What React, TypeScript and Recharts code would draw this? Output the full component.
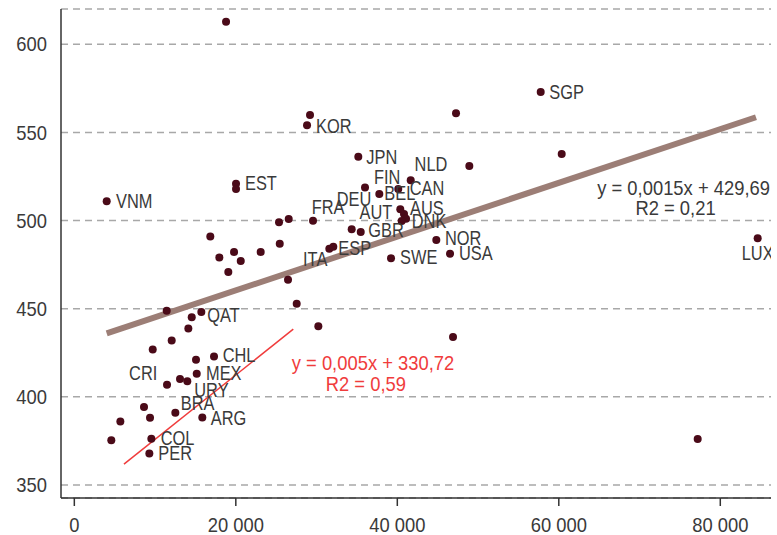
import { ScatterChart, Scatter, XAxis, YAxis, CartesianGrid, ReferenceDot } from "recharts";

// GDP per capita (x) vs score (y)
const gdp = [
  18790, 57760, 29190, 28820, 47270, 35170, 48920, 60360, 36000, 41660,
  40120, 37770, 40370, 40830, 41080, 40545, 29560, 25350, 26550, 4010,
  20025, 20025, 16840, 19780, 17960, 20610, 19070, 23080, 25440, 26465,
  34350, 35470, 31580, 32075, 39220, 44830, 46530, 84630, 27540, 30220,
  46900, 77200, 11440, 15730, 14540, 14120, 12060, 9710, 15070, 17300,
  15160, 13090, 13990, 11480, 8630, 5700, 9375, 12510, 15850, 4580,
  9540, 9290,
];
const score = [
  612.7, 572.9, 559.9, 554.0, 560.8, 536.2, 530.9, 537.7, 518.8, 522.8,
  517.9, 515.0, 506.4, 503.7, 501.0, 499.7, 499.9, 499.0, 500.9, 510.9,
  520.9, 517.9, 491.0, 482.1, 479.1, 477.0, 470.8, 482.1, 486.8, 466.4,
  495.0, 493.5, 484.0, 485.1, 478.6, 488.9, 481.2, 489.9, 452.8, 440.1,
  433.9, 376.0, 448.8, 448.1, 445.1, 438.8, 432.0, 426.9, 421.0, 422.9,
  413.1, 410.1, 408.9, 406.8, 394.2, 386.0, 388.1, 390.9, 388.3, 375.3,
  376.2, 367.9,
];
const codes = [
  "", "SGP", "", "KOR", "", "JPN", "NLD", "", "FIN", "CAN",
  "BEL", "DEU", "AUT", "AUS", "DNK", "", "FRA", "", "", "VNM",
  "EST", "", "", "", "", "", "", "", "", "",
  "", "GBR", "ITA", "ESP", "SWE", "NOR", "USA", "LUX", "", "",
  "", "", "", "QAT", "", "", "", "", "", "CHL",
  "MEX", "", "URY", "CRI", "", "", "", "BRA", "ARG", "",
  "COL", "PER",
];

// trend lines, end points
const allTrendX = [4010, 84420];
const allTrendY = [436.0, 558.6];
const lowTrendX = [6150, 27120];
const lowTrendY = [361.8, 438.4];

const xTicks = [0, 20000, 40000, 60000, 80000];
const yTicks = [350, 400, 450, 500, 550, 600];

const points = gdp.map((x, i) => ({ x, y: score[i], code: codes[i] }));
const allTrend = allTrendX.map((x, i) => ({ x, y: allTrendY[i] }));
const lowTrend = lowTrendX.map((x, i) => ({ x, y: lowTrendY[i] }));

const FONT = "'Liberation Sans', Arial, sans-serif";
const TEXT = "#3a3a3a";
const DOT = "#4a0a18";
const RED = "#f03c3c";

// condensed look: squeeze the text horizontally around its anchor
const NText = ({ x, y, anchor, sx, dy, fill, children }: any) => (
  <text
    transform={`translate(${x},${y}) scale(${sx},1)`}
    x={0}
    y={0}
    dy={dy}
    textAnchor={anchor}
    fill={fill}
    fontSize={20}
    fontFamily={FONT}
  >
    {children}
  </text>
);

// label placement: dx, dy (to text centre line), anchor
const labelPos: Record<string, [number, number, string]> = {
  KOR: [9, 0, "start"],
  JPN: [8, 0, "start"],
  NLD: [-22, -2, "end"],
  CAN: [-1, 7, "start"],
  BEL: [-14, 3.5, "start"],
  DEU: [-8, 5, "end"],
  FIN: [9, -11, "start"],
  AUT: [-8, 3, "end"],
  AUS: [6, -6.5, "start"],
  DNK: [5.7, 2.3, "start"],
  FRA: [-1.3, -14, "start"],
  GBR: [7.6, -2.5, "start"],
  ESP: [5, 1, "start"],
  ITA: [-2, 10, "end"],
  SWE: [9, -1, "start"],
  NOR: [8.7, -2.5, "start"],
  USA: [9, -1, "start"],
  LUX: [0, 14, "middle"],
  SGP: [8.6, 0, "start"],
  VNM: [9.3, -1, "start"],
  EST: [9, -1, "start"],
  QAT: [6, 3, "start"],
  CHL: [8.7, -2, "start"],
  CRI: [-9.7, -12, "end"],
  MEX: [9.3, -1, "start"],
  URY: [7, 9, "start"],
  BRA: [5.4, -9.7, "start"],
  ARG: [8.4, 0, "start"],
  COL: [9.4, -1, "start"],
  PER: [9, -1, "start"],
};

const CountryDot = (props: any) => {
  const { cx, cy, payload } = props;
  const pos = labelPos[payload.code];
  return (
    <g>
      <circle cx={cx} cy={cy} r={4} fill={DOT} />
      {pos && (
        <NText x={cx + pos[0]} y={cy + pos[1]} dy="0.36em" anchor={pos[2]} sx={0.82} fill={TEXT}>
          {payload.code}
        </NText>
      )}
    </g>
  );
};

const noShape = () => <g />;

const note = (value: string, color: string) => (props: any) => {
  const { viewBox } = props;
  const cx = viewBox.x + viewBox.width / 2;
  const cy = viewBox.y + viewBox.height / 2;
  return (
    <NText x={cx} y={cy} dy="0.36em" anchor="middle" sx={0.92} fill={color}>
      {value}
    </NText>
  );
};

const fmt = (v: number) => (v === 0 ? "0" : `${Math.floor(v / 1000)} ${String(v % 1000).padStart(3, "0")}`);

const XTick = (props: any) => (
  <NText x={props.x} y={props.y} dy="0.71em" anchor="middle" sx={0.92} fill={TEXT}>
    {fmt(props.payload.value)}
  </NText>
);

const YTick = (props: any) => (
  <NText x={props.x} y={props.y} dy="0.36em" anchor="end" sx={0.92} fill={TEXT}>
    {props.payload.value}
  </NText>
);

export default function App() {
  return (
    <div style={{ position: "absolute", left: 0, top: 0, width: 777, height: 535, background: "#fff" }}>
      <ScatterChart width={777} height={535} margin={{ top: 9, right: 6, bottom: 0, left: 0 }}>
        <CartesianGrid vertical={false} stroke="#a8a8a8" strokeWidth={1.5} strokeDasharray="7 5" />
        <XAxis
          type="number"
          dataKey="x"
          domain={[-1650, 86280]}
          allowDataOverflow
          ticks={xTicks}
          height={37}
          tickSize={8}
          tickMargin={12}
          axisLine={{ stroke: "#333", strokeWidth: 1.5 }}
          tickLine={{ stroke: "#333", strokeWidth: 1.5 }}
          tick={<XTick />}
        />
        <YAxis
          type="number"
          dataKey="y"
          domain={[342.6, 620]}
          allowDataOverflow
          ticks={yTicks}
          width={61}
          tickLine={false}
          tickSize={8}
          tickMargin={6}
          axisLine={{ stroke: "#333", strokeWidth: 1.5 }}
          tick={<YTick />}
        />
        <Scatter
          data={allTrend}
          line={{ stroke: "#9c7e76", strokeWidth: 6 }}
          shape={noShape}
          isAnimationActive={false}
        />
        <Scatter
          data={lowTrend}
          line={{ stroke: RED, strokeWidth: 1.5 }}
          shape={noShape}
          isAnimationActive={false}
        />
        <Scatter data={points} shape={<CountryDot />} isAnimationActive={false} />
        <ReferenceDot x={75455} y={518.7} r={0} label={note("y = 0,0015x + 429,69", TEXT)} />
        <ReferenceDot x={74453} y={507.4} r={0} label={note("R2 = 0,21", TEXT)} />
        <ReferenceDot x={36990} y={419.4} r={0} label={note("y = 0,005x + 330,72", RED)} />
        <ReferenceDot x={36100} y={407.5} r={0} label={note("R2 = 0,59", RED)} />
      </ScatterChart>
    </div>
  );
}
